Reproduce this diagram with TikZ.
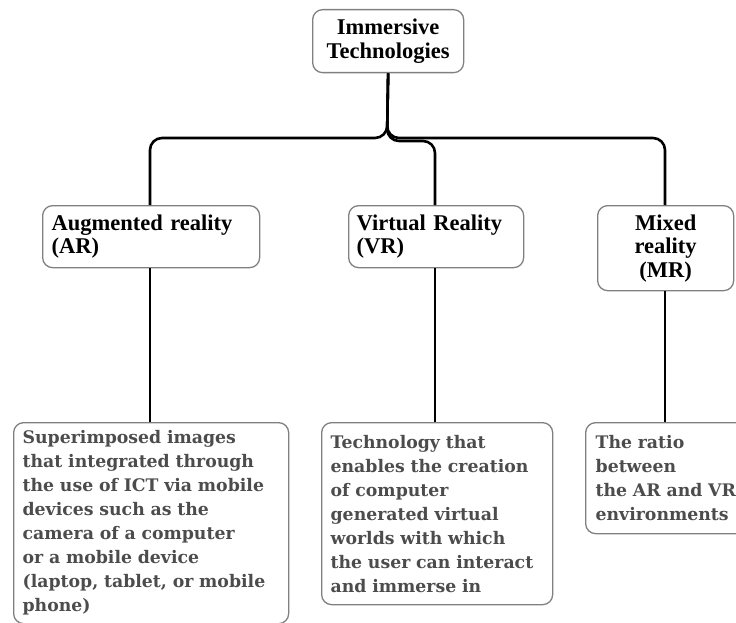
\documentclass[tikz,border=0pt]{standalone}
\usepackage{fontspec}
\setmainfont{DejaVu Serif}
\newfontfamily\topfont{Liberation Serif}
\begin{document}
\begin{tikzpicture}[x=1pt,y=-1pt,
  box/.style={draw=black!50, line width=1.3pt, rounded corners=10pt, fill=white, inner sep=0pt, anchor=north west},
  toptext/.style={font=\topfont\bfseries\fontsize{22.5}{23.5}\selectfont, text=black},
  bottext/.style={font=\bfseries\fontsize{17.3}{24}\selectfont, text=black!70},
  conn/.style={line width=2.6pt, rounded corners=12pt}]
\useasboundingbox (0,0) rectangle (736,623);
% connectors
\coordinate (jl) at (387,138);
\coordinate (jm) at (387,141);
\coordinate (tl) at (150,138);
\coordinate (tr) at (665,138);
\coordinate (tm) at (435,141);
% top level
\node[box, minimum width=151pt, minimum height=63pt, align=center, toptext] (root) at (312,9) {Immersive\\Technologies};
% second level
\node[box, minimum width=217pt, minimum height=62pt, toptext, text width=199pt, align=left] (ar) at (42,205) {Augmented reality\\(AR)};
\node[box, minimum width=175pt, minimum height=62pt, toptext, text width=159pt, align=left] (vr) at (348,205) {Virtual Reality\\(VR)};
\node[box, minimum width=136pt, minimum height=85pt, toptext, text width=130pt, align=center] (mr) at (597,205) {Mixed\\reality\\(MR)};
% third level
\node[box, minimum width=275pt, minimum height=201pt, bottext, text width=257pt, align=left] (ard) at (13,422) {Superimposed images\\that integrated through\\the use of ICT via mobile\\devices such as the\\camera of a computer\\or a mobile device\\(laptop, tablet, or mobile\\phone)};
\node[box, minimum width=231pt, minimum height=182pt, bottext, text width=213pt, align=left] (vrd) at (321,422) {Technology that\\enables the creation\\of computer\\generated virtual\\worlds with which\\the user can interact\\and immerse in};
\node[box, minimum width=168pt, minimum height=111pt, bottext, text width=148pt, align=left] (mrd) at (585,422) {The ratio\\between\\the AR and VR\\environments};
\draw[conn] (root.south) -- (jl) -- (tl) -- (tl |- ar.north);
\draw[conn] (root.south) -- (jl) -- (tr) -- (tr |- mr.north);
\draw[conn] (root.south) -- (jm) -- (tm) -- (tm |- vr.north);
\draw[line width=2.6pt] (tl |- ar.south) -- (tl |- ard.north);
\draw[line width=2.6pt] (tm |- vr.south) -- (tm |- vrd.north);
\draw[line width=2.6pt] (tr |- mr.south) -- (tr |- mrd.north);
\end{tikzpicture}
\end{document}
